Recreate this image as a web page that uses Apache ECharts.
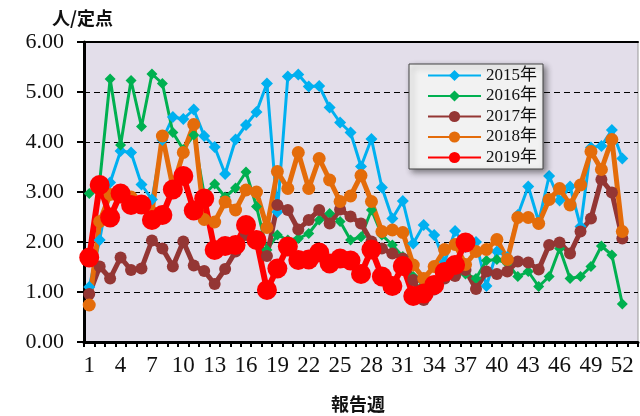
<!DOCTYPE html>
<html><head><meta charset="utf-8">
<script src="https://cdn.jsdelivr.net/npm/echarts@6/dist/echarts.min.js"></script>
<style>html,body{margin:0;padding:0;background:#fff}#c{width:640px;height:416px}</style>
</head><body><div id="c"></div>
<script>
const weeks = ['1','2','3','4','5','6','7','8','9','10','11','12','13','14','15','16','17','18','19','20','21','22','23','24','25','26','27','28','29','30','31','32','33','34','35','36','37','38','39','40','41','42','43','44','45','46','47','48','49','50','51','52',''];
const yTicks = [0,1,2,3,4,5,6];
const s2015 = [1.1,2.04,3.19,3.82,3.79,3.15,2.85,4.04,4.5,4.46,4.65,4.12,3.9,3.36,4.05,4.34,4.6,5.17,2.6,5.31,5.35,5.11,5.12,4.69,4.39,4.19,3.51,4.06,3.09,2.47,2.82,1.97,2.34,2.14,1.6,2.22,1.9,2.0,1.12,1.81,1.7,2.54,3.11,2.41,3.32,2.83,3.11,2.31,3.89,3.92,4.24,3.67];
const s2016 = [2.97,3.2,5.26,3.94,5.23,4.31,5.36,5.17,4.19,3.85,4.14,2.95,3.16,2.9,3.08,3.4,2.71,1.84,2.14,2.04,2.07,2.17,2.44,2.57,2.41,2.04,2.1,2.64,2.14,1.94,1.71,1.31,1.15,1.2,1.4,1.45,1.36,1.27,1.63,1.65,1.57,1.31,1.41,1.11,1.31,1.87,1.27,1.31,1.51,1.92,1.74,0.76];
const s2017 = [0.96,1.51,1.27,1.69,1.44,1.47,2.03,1.87,1.51,2.01,1.53,1.42,1.16,1.46,1.81,2.14,2.05,1.72,2.74,2.64,2.25,2.44,2.64,2.37,2.65,2.51,2.37,2.01,1.87,1.77,1.67,1.24,0.84,1.05,1.27,1.32,1.44,1.06,1.41,1.36,1.41,1.61,1.59,1.45,1.94,1.99,1.77,2.21,2.47,3.25,2.99,2.07];
const s2018 = [0.74,2.41,2.95,2.95,2.9,2.75,2.6,4.12,3.1,3.79,4.35,2.45,2.4,2.8,2.64,3.04,3.0,2.29,3.41,3.07,3.79,3.07,3.67,3.24,2.81,2.92,3.33,2.81,2.21,2.24,2.19,1.54,1.27,1.51,1.85,1.95,1.55,1.81,1.85,2.05,1.65,2.49,2.49,2.37,2.85,3.07,2.74,3.14,3.81,3.45,4.05,2.21];
const s2019 = [1.69,3.14,2.49,2.97,2.74,2.75,2.44,2.54,3.05,3.32,2.63,2.87,1.84,1.92,1.94,2.34,2.04,1.04,1.47,1.91,1.64,1.65,1.79,1.57,1.67,1.63,1.36,1.85,1.31,1.12,1.52,0.92,0.97,1.14,1.4,1.54,1.99];
const seriesNames = ['2015年','2016年','2017年','2018年','2019年'];

const serif = '"Liberation Serif","Noto Sans CJK JP",serif';
const chart = echarts.init(document.getElementById('c'), null, {renderer:'canvas'});
function mk(name, data, color, width, symbol, size){
  return {name, type:'line', data, xAxisIndex:0, yAxisIndex:0, symbol, symbolSize:size,
    showSymbol:true, showAllSymbol:true,
    lineStyle:{color, width}, itemStyle:{color, borderWidth:0}, animation:false};
}
chart.setOption({
  animation:false,
  grid:{left:84, right:2, top:42, bottom:74, show:true, backgroundColor:'#E3DEEA', borderColor:'#999', borderWidth:1},
  legend:{orient:'vertical', left:409, top:64, width:134, data:seriesNames,
    itemWidth:53, itemHeight:14, itemGap:3.5, padding:[3,6,3,18],
    backgroundColor:'#F2F2F2', borderColor:'#444', borderWidth:1,
    shadowBlur:6, shadowColor:'rgba(0,0,0,0.45)', shadowOffsetX:3, shadowOffsetY:3,
    textStyle:{fontFamily:serif, fontSize:17, color:'#111'}},
  xAxis:[{type:'category', data:weeks, boundaryGap:true, position:'bottom',
    axisLine:{lineStyle:{color:'#000', width:3}},
    axisTick:{show:true, interval:0, length:5, lineStyle:{color:'#000', width:2}},
    axisLabel:{interval:(i)=> i%3===0 && i<=51, fontFamily:serif, fontSize:23, color:'#111', margin:12},
    splitLine:{show:false}},
    {type:'category', data:weeks, position:'top', axisLine:{lineStyle:{color:'#000', width:2}}, axisTick:{show:false}, axisLabel:{show:false}}],
  yAxis:[{type:'value', min:yTicks[0], max:yTicks[yTicks.length-1], interval:1,
    axisLine:{show:true, lineStyle:{color:'#000', width:3}},
    axisTick:{show:true, length:7, lineStyle:{color:'#000', width:2}},
    axisLabel:{formatter:(v)=>v.toFixed(2), fontFamily:serif, fontSize:22, color:'#111', margin:20},
    splitLine:{show:true, lineStyle:{color:'#000', width:1, type:[6,4]}}}],
  graphic:[
    {type:'text', left:52, top:9, style:{text:'人/定点', font:'bold 18px "Noto Sans CJK JP"', fill:'#111'}},
    {type:'text', left:331, top:395, style:{text:'報告週', font:'bold 18px "Noto Sans CJK JP"', fill:'#111'}}
  ],
  series:[
    mk(seriesNames[0], s2015, '#00B0F0', 3, 'diamond', 12),
    mk(seriesNames[1], s2016, '#00B050', 3, 'diamond', 11),
    mk(seriesNames[2], s2017, '#943634', 5, 'circle', 12),
    mk(seriesNames[3], s2018, '#E46C0A', 5, 'circle', 13),
    mk(seriesNames[4], s2019, '#FF0000', 6, 'circle', 20)
  ]
});
</script></body></html>
